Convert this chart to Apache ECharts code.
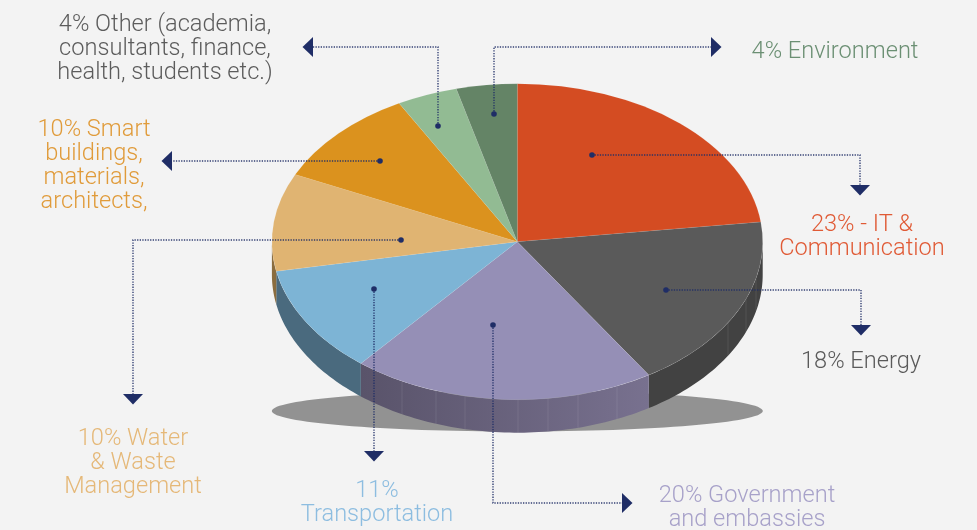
<!DOCTYPE html>
<html>
<head>
<meta charset="utf-8">
<style>
  html, body { margin: 0; padding: 0; background: #f3f3f3; }
  #chart { width: 977px; height: 530px; }
</style>
<script src="https://cdn.jsdelivr.net/npm/echarts@6/dist/echarts.min.js"></script>
</head>
<body>
<div id="chart"></div>
<script>
// shares, clockwise from 12 o'clock
const sectors = ["IT & Communication", "Energy", "Government and embassies", "Transportation", "Water & Waste Management", "Smart buildings, materials, architects", "Other", "Environment"]
const shares = [23, 18, 20, 11, 10, 10, 4, 4]
const labelTexts = [
  "23% - IT &\nCommunication",
  "18% Energy",
  "20% Government\nand embassies",
  "11%\nTransportation",
  "10% Water\n& Waste\nManagement",
  "10% Smart\nbuildings,\nmaterials,\narchitects,",
  "4% Other (academia,\nconsultants, finance,\nhealth, students etc.)",
  "4% Environment"
]

const topColors = ["#d44c22", "#5a5a5a", "#958fb6", "#7db4d5", "#e0b472", "#db921e", "#92bb93", "#648466"]
const wallColors = [
  "#8a3418",
  "#424242",
  { type: "linear", x: 0, y: 0, x2: 1, y2: 0, colorStops: [{ offset: 0, color: "#59536a" }, { offset: 1, color: "#78718f" }] },
  "#4a6a7e",
  "#8a6c3e",
  "#8a6c3e",
  "#5f7f60",
  "#465f48"
]
const labelColors = ["#e05a35", "#5a5a5a", "#a7a1c9", "#8dbde0", "#e5b878", "#e09b3a", "#5c5c5c", "#6b8f73"]

// pie layout in pixels
const pie = { cx: 517.3, cy: 241.7, rx: 245.4, ry: 158, depth: 33 }
const floor = { cx: 517.3, cy: 411, rx: 245.5, ry: 20.5 }
const seamXs = [402, 436, 465, 518, 548, 578, 617, 728, 746, 756]

// leader layout: dot, elbows, arrow tip direction
const leaders = [
  { pts: [[592, 155], [860, 155], [860, 185]], dir: "down" },
  { pts: [[666, 290], [861, 290], [861, 325]], dir: "down" },
  { pts: [[493, 325], [493, 503], [622, 503]], dir: "right" },
  { pts: [[374, 289], [374, 451]], dir: "down" },
  { pts: [[401, 240], [133, 240], [133, 394]], dir: "down" },
  { pts: [[380, 161], [172, 161]], dir: "left" },
  { pts: [[438, 126], [438, 47], [313, 47]], dir: "left" },
  { pts: [[494, 114], [494, 47], [711, 47]], dir: "right" }
]
const labelBoxes = [
  { x: 862, y: 237, align: "center" },
  { x: 861, y: 362, align: "center" },
  { x: 747, y: 508, align: "center" },
  { x: 377, y: 503, align: "center" },
  { x: 133, y: 463, align: "center" },
  { x: 94, y: 166, align: "center" },
  { x: 165, y: 49, align: "center" },
  { x: 835, y: 52, align: "center" }
]

const NAVY = "#1f2d66"
const FONT = "Roboto"

// cumulative start/end of each slice in radians from 12 o'clock
function sliceRange(i) {
  const total = shares.reduce((a, b) => a + b, 0)
  const before = shares.slice(0, i).reduce((a, b) => a + b, 0)
  return [before / total * Math.PI * 2, (before + shares[i]) / total * Math.PI * 2]
}

function rimPoint(t, drop) {
  return [pie.cx + pie.rx * Math.sin(t), pie.cy - pie.ry * Math.cos(t) + drop]
}

function renderFloor() {
  return {
    type: "ellipse",
    shape: { cx: floor.cx, cy: floor.cy, rx: floor.rx, ry: floor.ry },
    style: { fill: "#929292" }
  }
}

function renderWall(params, api) {
  const i = api.value(0)
  const range = sliceRange(i)
  const from = Math.max(range[0], Math.PI / 2)
  const to = Math.min(range[1], Math.PI * 1.5)
  if (to <= from) return null

  const steps = Math.ceil((to - from) / 0.02)
  const upper = [], lower = []
  for (let s = 0; s <= steps; s++) {
    const t = from + (to - from) * s / steps
    upper.push(rimPoint(t, 0))
    lower.unshift(rimPoint(t, pie.depth))
  }
  return {
    type: "polygon",
    shape: { points: upper.concat(lower) },
    style: { fill: wallColors[i] }
  }
}

function renderSeams() {
  const children = seamXs.map(x => {
    const k = (x - pie.cx) / pie.rx
    const y = pie.cy + pie.ry * Math.sqrt(1 - k * k)
    return {
      type: "line",
      shape: { x1: x, y1: y, x2: x, y2: y + pie.depth },
      style: { stroke: "rgba(255,255,255,0.09)", lineWidth: 1 }
    }
  })
  return { type: "group", children }
}

function renderSlice(params, api) {
  const i = api.value(0)
  const range = sliceRange(i)
  return {
    type: "sector",
    x: pie.cx,
    y: pie.cy,
    scaleY: pie.ry / pie.rx,
    shape: {
      cx: 0,
      cy: 0,
      r0: 0,
      r: pie.rx,
      startAngle: range[0] - Math.PI / 2,
      endAngle: range[1] - Math.PI / 2,
      clockwise: true
    },
    style: { fill: topColors[i], stroke: "rgba(255,255,255,0.18)", lineWidth: 0.5 }
  }
}

function arrowPoints(tipBase, dir) {
  const x = tipBase[0], y = tipBase[1], w = 10, l = 10.5
  if (dir === "down") return [[x - w, y], [x + w, y], [x, y + l]]
  if (dir === "left") return [[x, y - w], [x, y + w], [x - l, y]]
  return [[x, y - w], [x, y + w], [x + l, y]]
}

function renderLeader(params, api) {
  const l = leaders[api.value(0)]
  const end = l.pts[l.pts.length - 1]
  return {
    type: "group",
    children: [
      {
        type: "polyline",
        shape: { points: l.pts },
        style: { fill: null, stroke: NAVY, lineWidth: 1.4, lineDash: [1.3, 1.3], opacity: 0.9 }
      },
      {
        type: "circle",
        shape: { cx: l.pts[0][0], cy: l.pts[0][1], r: 2.8 },
        style: { fill: NAVY }
      },
      {
        type: "polygon",
        shape: { points: arrowPoints(end, l.dir) },
        style: { fill: NAVY }
      }
    ]
  }
}

function renderLabel(params, api) {
  const i = api.value(0)
  const box = labelBoxes[i]
  return {
    type: "text",
    x: box.x,
    y: box.y,
    style: {
      text: labelTexts[i],
      fill: labelColors[i],
      font: "300 23.6px " + FONT,
      lineHeight: 24,
      align: box.align,
      verticalAlign: "middle"
    }
  }
}

const sliceIds = shares.map((v, i) => [i, v, sectors[i]])

function customSeries(name, renderItem, data) {
  return { type: "custom", name, coordinateSystem: "none", renderItem, data, silent: true, clip: false, animation: false }
}

const chart = echarts.init(document.getElementById("chart"), null, { renderer: "canvas" })
chart.setOption({
  backgroundColor: "#f3f3f3",
  animation: false,
  tooltip: { show: false },
  series: [
    customSeries("floor", renderFloor, [[0]]),
    customSeries("walls", renderWall, sliceIds),
    customSeries("seams", renderSeams, [[0]]),
    customSeries("slices", renderSlice, sliceIds),
    customSeries("leaders", renderLeader, sliceIds),
    customSeries("labels", renderLabel, sliceIds)
  ]
})
</script>
</body>
</html>
